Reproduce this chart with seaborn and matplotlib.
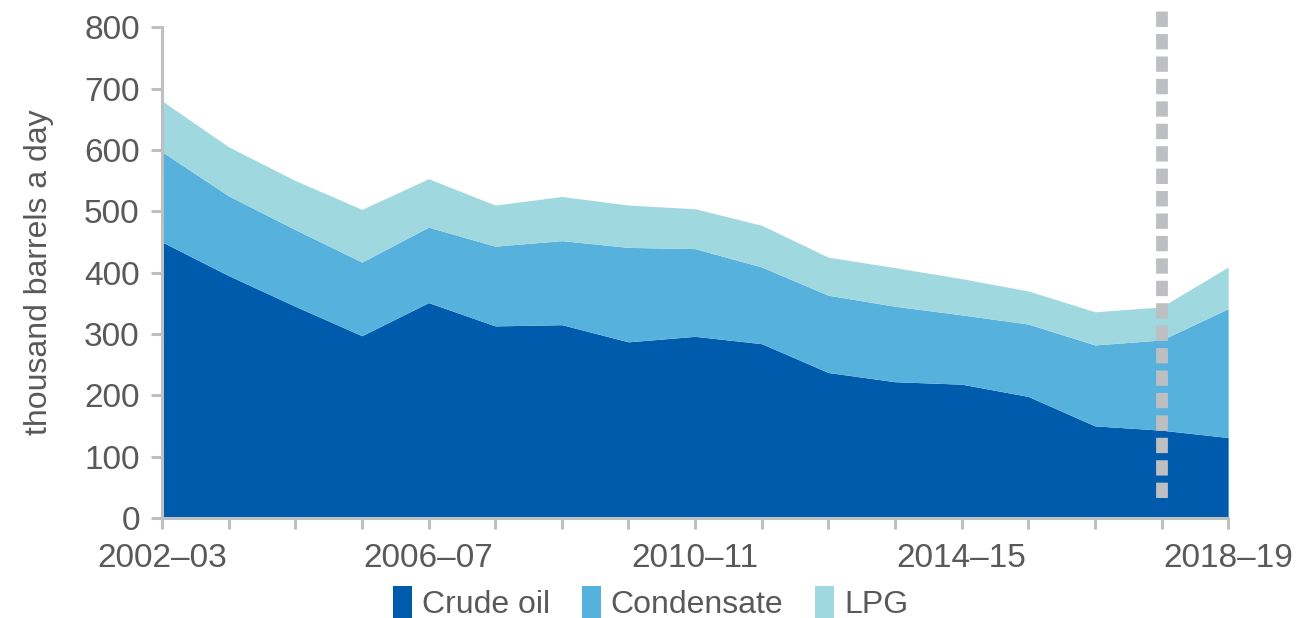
import seaborn as sns
import pandas as pd
import matplotlib.pyplot as plt

# financial years, one per point
years = ["2002–03", "2003–04", "2004–05", "2005–06", "2006–07", "2007–08",
         "2008–09", "2009–10", "2010–11", "2011–12", "2012–13", "2013–14",
         "2014–15", "2015–16", "2016–17", "2017–18", "2018–19"]

# thousand barrels a day
crude_oil = [450, 395, 345, 297, 351, 313, 315, 287, 296, 284, 237, 222, 218, 198, 150, 143, 131]
condensate = [147, 130, 125, 120, 123, 130, 137, 154, 143, 125, 126, 123, 113, 118, 132, 147, 210]
lpg = [83, 80, 80, 86, 79, 67, 72, 69, 65, 68, 62, 63, 59, 54, 54, 54, 68]

tick_labels = ["2002–03", "2006–07", "2010–11", "2014–15", "2018–19"]
marker_year = "2017–18"

sns.set_style("white")
plt.rcParams["font.family"] = ["Liberation Sans", "DejaVu Sans"]

df = pd.DataFrame({"year": years, "Crude oil": crude_oil,
                   "Condensate": condensate, "LPG": lpg})
df["pos"] = range(len(df))

colours = ["#005BAC", "#56B1DC", "#A0D8E0"]
grey = "#BDBFC2"
text_col = "#595959"

fig = plt.figure(figsize=(13.01, 6.18), dpi=100)
ax = fig.add_axes([0.1245, 0.162, 0.8195, 0.794])

ax.stackplot(df["pos"], df["Crude oil"], df["Condensate"], df["LPG"],
             colors=colours, labels=["Crude oil", "Condensate", "LPG"],
             linewidth=0)

# dotted marker line for the latest estimate year
xm = years.index(marker_year)
ax.plot([xm, xm], [33, 830], color=grey, linewidth=8.5,
        linestyle=(0, (1.3, 0.6)), dash_capstyle="butt", clip_on=False)

ax.set_xlim(0, len(years) - 1)
ax.set_ylim(0, 800)
ax.set_yticks(range(0, 801, 100))
ax.set_xticks(range(len(years)))
ax.set_xticklabels([y if y in tick_labels else "" for y in years])

for side in ["top", "right"]:
    ax.spines[side].set_visible(False)
for side in ["left", "bottom"]:
    ax.spines[side].set_color(grey)
    ax.spines[side].set_linewidth(2.2)

ax.tick_params(axis="both", colors=grey, width=2.2, length=8, direction="out",
               labelcolor=text_col, labelsize=24)
ax.tick_params(axis="y", pad=8)
ax.tick_params(axis="x", pad=10)
ax.yaxis.set_ticks_position("left")
ax.xaxis.set_ticks_position("bottom")

ax.set_ylabel("thousand barrels a day", fontsize=23, color=text_col, labelpad=22)
ax.set_xlabel("")

fig.legend(loc="center", bbox_to_anchor=(0.5, 0.024), ncol=3,
           frameon=False, fontsize=23, handlelength=0.6, handleheight=1.2,
           handletextpad=0.3, columnspacing=1.0, labelcolor=text_col)

fig.savefig("out.png", dpi=100)
